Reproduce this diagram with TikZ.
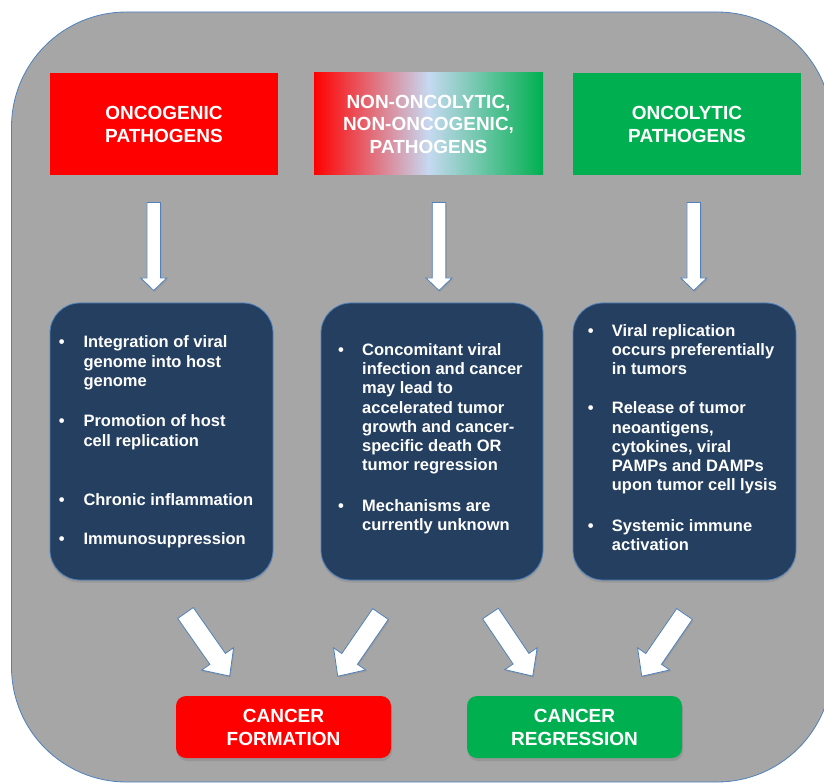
\documentclass[tikz,border=0pt]{standalone}
\usepackage{fontspec}
\setmainfont{Liberation Sans}
\usetikzlibrary{shadows}
\definecolor{bggray}{HTML}{A6A6A6}
\definecolor{edgeblue}{HTML}{4F81BD}
\definecolor{navy}{HTML}{243F60}
\definecolor{ogreen}{HTML}{00B050}
\definecolor{lightblue}{HTML}{C6D9F1}
\newcommand\blkarrow[7]{%
  \draw[blockarrow, shift={(#1,#2)}, rotate=#3]
    (0,-#5/2) -- (#4-#7,-#5/2) -- (#4-#7,-#6/2) -- (#4,0) --
    (#4-#7,#6/2) -- (#4-#7,#5/2) -- (0,#5/2) -- cycle;}
\begin{document}
\begin{tikzpicture}[x=1pt,y=-1pt,
  titlebox/.style={minimum width=228pt, minimum height=102pt, inner sep=0pt,
    align=center, text=white, font=\bfseries\fontsize{19}{23}\selectfont},
  infobox/.style={draw=edgeblue, line width=0.8pt, fill=navy, rounded corners=30pt,
    minimum width=223pt, minimum height=277pt, inner sep=0pt,
    drop shadow={opacity=0.35, shadow xshift=0pt, shadow yshift=-2.5pt}},
  endbox/.style={rounded corners=10pt, minimum width=215pt, minimum height=62pt,
    inner sep=0pt, align=center, text=white,
    font=\bfseries\fontsize{19}{23}\selectfont,
    drop shadow={opacity=0.4, shadow xshift=1pt, shadow yshift=-3pt}},
  bl/.style={anchor=base west, inner sep=0pt, text=white,
    font=\bfseries\fontsize{16.5}{19}\selectfont},
  bul/.style={anchor=base, inner sep=0pt, text=white,
    font=\bfseries\fontsize{16.5}{19}\selectfont},
  blockarrow/.style={draw=edgeblue, line width=0.8pt, fill=white, line join=miter,
    drop shadow={opacity=0.3, shadow xshift=1pt, shadow yshift=-1.5pt}}
]
\useasboundingbox (0,0) rectangle (824,783);
% background panel
\draw[edgeblue, line width=0.8pt, fill=bggray, rounded corners=115pt]
  (11.5,12) rectangle (832,782);

% title boxes
\node[titlebox, fill=red] (onco) at (164,124) {ONCOGENIC\\PATHOGENS};
\node[titlebox, minimum width=229pt, left color=red, right color=ogreen,
  middle color=lightblue, font=\bfseries\fontsize{19}{22.5}\selectfont]
  (nonon) at (428.5,124) {NON-ONCOLYTIC,\\NON-ONCOGENIC,\\PATHOGENS};
\node[titlebox, fill=ogreen] (oncol) at (687,124) {ONCOLYTIC\\PATHOGENS};

% down arrows
\blkarrow{153.7}{202.5}{-90}{88}{13.5}{26}{12.5}
\blkarrow{439}{202.5}{-90}{88}{13.5}{26}{12.5}
\blkarrow{693.7}{202.5}{-90}{88}{13.5}{26}{12.5}

% info boxes
\node[infobox] (box1) at (161.5,441.5) {};
\node[infobox, minimum width=222pt] (box2) at (432,441.5) {};
\node[infobox] (box3) at (684.5,441.5) {};

% box 1 text
\foreach \yy in {347.8, 426.8, 505.2, 544.5}
  \node[bul] at (61.7,\yy) {•};
\foreach \yy/\txt [count=\i] in {347.8/{Integration of viral}, 367/{genome into host},
  386.2/{genome}, 426.8/{Promotion of host}, 446/{cell replication},
  505.2/{Chronic inflammation}, 544.5/{Immunosuppression}}
  \node[bl] (ta\i) at (83.3,\yy) {\txt};

% box 2 text
\foreach \yy in {355.5, 511.5}
  \node[bul] at (341,\yy) {•};
\foreach \yy/\txt [count=\i] in {355.5/{Concomitant viral}, 374.7/{infection and cancer},
  393.9/{may lead to}, 413.1/{accelerated tumor}, 432.3/{growth and cancer-},
  451.5/{specific death OR}, 470.7/{tumor regression},
  511.5/{Mechanisms are}, 530.7/{currently unknown}}
  \node[bl] (tb\i) at (362,\yy) {\txt};

% box 3 text
\foreach \yy in {336.2, 413.8, 531.2}
  \node[bul] at (590.7,\yy) {•};
\foreach \yy/\txt [count=\i] in {336.2/{Viral replication}, 355.4/{occurs preferentially},
  374.6/{in tumors}, 413.8/{Release of tumor}, 433/{neoantigens,},
  452.2/{cytokines, viral}, 471.4/{PAMPs and DAMPs}, 490.6/{upon tumor cell lysis},
  531.2/{Systemic immune}, 550.4/{activation}}
  \node[bl] (tc\i) at (611.7,\yy) {\txt};

% diagonal arrows
\blkarrow{185.5}{613}{-55}{77}{19}{39}{21}
\blkarrow{380.5}{614}{-124.5}{75.5}{19}{39}{21}
\blkarrow{490.5}{613.5}{-56}{75.5}{19}{39}{21}
\blkarrow{684.5}{614}{-124.5}{75.5}{19}{39}{21}

% outcome boxes
\node[endbox, fill=red] (form) at (283.5,727) {CANCER\\FORMATION};
\node[endbox, fill=ogreen] (regr) at (574.5,727) {CANCER\\REGRESSION};
\end{tikzpicture}
\end{document}
